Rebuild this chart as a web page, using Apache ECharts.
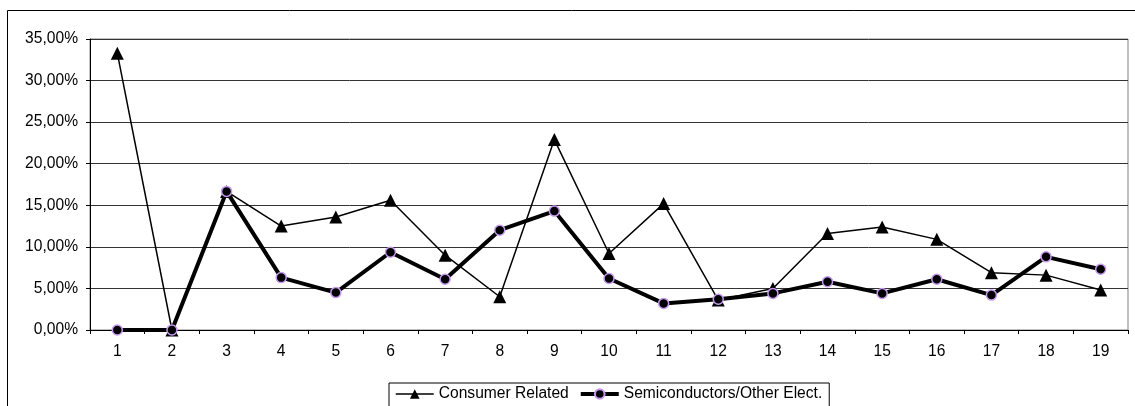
<!DOCTYPE html>
<html><head><meta charset="utf-8">
<script src="https://cdn.jsdelivr.net/npm/echarts@6/dist/echarts.min.js"></script>
<style>html,body{margin:0;padding:0;background:#fff}#c{width:1135px;height:406px}</style>
</head><body><div id="c"></div>
<script>
const categories = ['1','2','3','4','5','6','7','8','9','10','11','12','13','14','15','16','17','18','19'];
const consumerRelated = [33.3, 0, 16.67, 12.5, 13.6, 15.6, 9.0, 4.0, 22.9, 9.2, 15.2, 3.6, 5.0, 11.6, 12.4, 10.9, 6.9, 6.6, 4.8];
const semiconductors = [0, 0, 16.67, 6.3, 4.5, 9.35, 6.1, 12.0, 14.3, 6.2, 3.2, 3.7, 4.4, 5.8, 4.4, 6.1, 4.2, 8.8, 7.3];
const seriesNames = ['Consumer Related', 'Semiconductors/Other Elect.'];

const FONT = '"Liberation Sans", Arial, sans-serif';
const FS = 15.6;
const chart = echarts.init(document.getElementById('c'), null, {renderer: 'canvas'});
chart.setOption({
  animation: false,
  backgroundColor: '#fff',
  textStyle: {fontFamily: FONT, color: '#000'},
  graphic: [{
    type: 'rect', shape: {x: 7.5, y: 10.5, width: 1200, height: 500},
    style: {fill: 'none', stroke: '#000', lineWidth: 1}, silent: true, z: -10
  }],
  grid: {left: 90, right: 7, top: 39, bottom: 76, show: true, borderColor: '#808080', borderWidth: 1, containLabel: false},
  legend: {
    left: 389, top: 383,
    data: [
      {name: seriesNames[0], lineStyle: {width: 1.5}},
      {name: seriesNames[1], lineStyle: {width: 4}}
    ],
    orient: 'horizontal',
    itemWidth: 38, itemHeight: 12, itemGap: 10,
    padding: [3, 7, 30, 6],
    borderColor: '#000', borderWidth: 1, borderRadius: 0,
    textStyle: {fontFamily: FONT, fontSize: FS, color: '#000'}
  },
  xAxis: {
    type: 'category', data: categories, boundaryGap: true,
    axisLine: {lineStyle: {color: '#000', width: 1}},
    axisTick: {show: true, alignWithLabel: false, length: 4, lineStyle: {color: '#000'}},
    axisLabel: {fontFamily: FONT, fontSize: FS, color: '#000', margin: 14},
    splitLine: {show: false}
  },
  yAxis: {
    type: 'value', min: 0, max: 35, interval: 5,
    axisLine: {show: true, lineStyle: {color: '#000', width: 1}},
    axisTick: {show: true, length: 4, inside: false, lineStyle: {color: '#000'}},
    axisLabel: {fontFamily: FONT, fontSize: FS, color: '#000', margin: 12,
      formatter: v => v.toFixed(2).replace('.', ',') + '%'},
    splitLine: {show: true, lineStyle: {color: '#333', width: 1}}
  },
  series: [
    {
      name: seriesNames[0], type: 'line', data: consumerRelated,
      symbol: 'triangle', symbolSize: 13, showAllSymbol: true,
      lineStyle: {color: '#000', width: 1.5},
      itemStyle: {color: '#000', borderColor: '#000', borderWidth: 0},
      z: 2
    },
    {
      name: seriesNames[1], type: 'line', data: semiconductors,
      symbol: 'circle', symbolSize: 10, showAllSymbol: true,
      lineStyle: {color: '#000', width: 4},
      itemStyle: {color: '#000', borderColor: '#c79af0', borderWidth: 1.5},
      z: 3
    }
  ]
});
</script></body></html>
